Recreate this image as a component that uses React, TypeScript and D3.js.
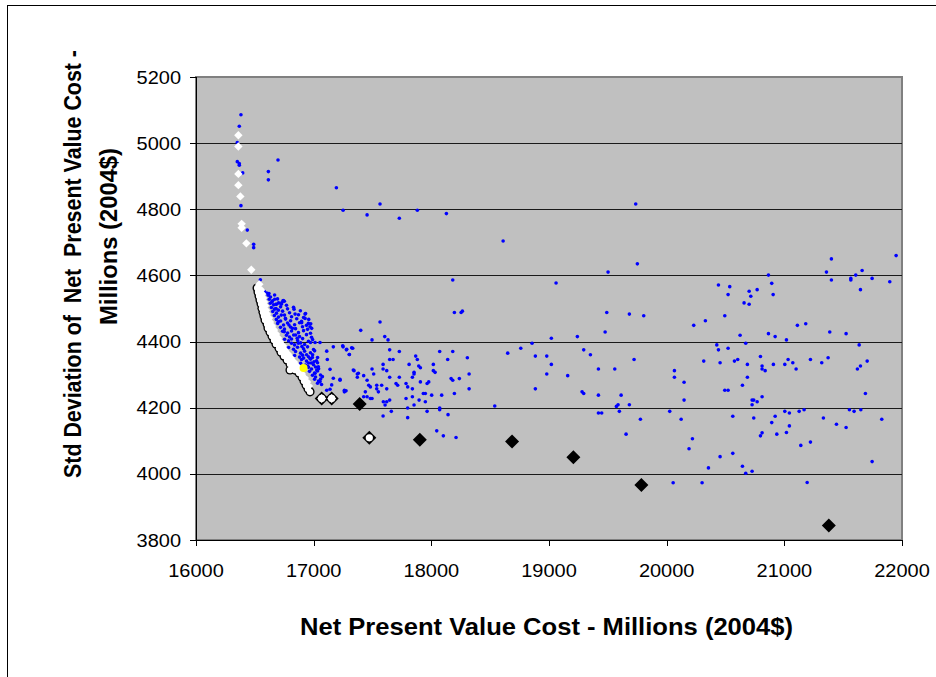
import React from "react";
import * as d3 from "d3";

// Axis ticks
const xTicks = [16000, 17000, 18000, 19000, 20000, 21000, 22000];
const yTicks = [3800, 4000, 4200, 4400, 4600, 4800, 5000, 5200];

// Candidate portfolios: [NPV cost, std deviation]
const candidatesUpper: [number, number][] = [
  [16382, 5086], [16368, 5051], [16351, 5002], [16351, 4944], [16368, 4938], [16368, 4933],
  [16397, 4910], [16697, 4949], [16615, 4914], [16615, 4889], [17193, 4865], [17564, 4816],
  [17250, 4797], [17454, 4783], [16382, 4811], [16436, 4737], [16490, 4694], [16490, 4684],
  [16547, 4587], [16669, 4528], [16740, 4523], [16683, 4513], [16725, 4513],
  [17728, 4773], [17881, 4797], [18128, 4787], [18182, 4586], [18196, 4488], [18253, 4488],
  [18264, 4492], [17564, 4459], [17400, 4434], [17496, 4405], [17604, 4415], [17632, 4405],
  [18539, 4205], [18046, 4130], [18102, 4115], [18210, 4110], [18610, 4704], [19060, 4577],
];

const candidatesMid: [number, number][] = [
  [17250, 4384], [17278, 4375], [17332, 4380], [17303, 4361], [17646, 4375], [17728, 4370],
  [18071, 4370], [18182, 4370], [17867, 4356], [17881, 4346], [17646, 4346], [17675, 4346],
  [18139, 4346], [18306, 4351], [17590, 4331], [17811, 4331], [18017, 4331], [17893, 4326],
  [17907, 4321], [17590, 4317], [17621, 4312], [17343, 4312], [17496, 4317], [17853, 4307],
  [17853, 4302], [18017, 4312], [18032, 4307], [18321, 4302], [17371, 4302], [17371, 4292],
  [17425, 4297], [17510, 4302], [17646, 4292], [17728, 4292], [17839, 4292], [17224, 4283],
  [17454, 4283], [17907, 4278], [17964, 4273], [17978, 4278], [18168, 4288], [18182, 4283],
  [18238, 4288], [17700, 4273], [17714, 4268], [17468, 4268], [17482, 4263], [17536, 4268],
  [17536, 4257], [17578, 4268], [17785, 4273], [17799, 4263], [17621, 4257], [17839, 4257],
  [18321, 4257], [17261, 4253], [17261, 4248], [17439, 4248], [17550, 4248], [17932, 4243],
  [17949, 4243], [18003, 4238], [18088, 4238], [18196, 4243], [17425, 4233], [17454, 4233],
  [17482, 4228], [17496, 4228], [17646, 4223], [17621, 4218], [17592, 4218], [17785, 4228],
  [17839, 4233], [17896, 4223], [17949, 4218], [17607, 4208], [17853, 4208], [17799, 4199],
  [18071, 4199], [18071, 4194], [17964, 4189], [17660, 4189], [18142, 4179], [17590, 4175],
  [17799, 4170],
  [18649, 4365], [18760, 4380], [18856, 4395], [19020, 4410], [18884, 4356], [18981, 4356],
  [19020, 4331], [18981, 4302], [19159, 4297], [18884, 4257],
];

const candidatesRight: [number, number][] = [
  [19737, 4816], [19751, 4635], [19502, 4610], [20440, 4571], [20536, 4566], [20522, 4542],
  [19491, 4488], [19683, 4483], [19805, 4478], [20494, 4478], [20230, 4449], [20329, 4463],
  [19477, 4429], [19241, 4415], [20624, 4419], [19295, 4375], [19352, 4360], [19723, 4346],
  [19420, 4317], [19559, 4317], [19281, 4248], [19295, 4243], [19420, 4238], [19613, 4238],
  [19573, 4204], [19587, 4209], [19683, 4209], [19420, 4184], [19448, 4184], [19598, 4189],
  [19777, 4165], [19655, 4120], [20026, 4189], [20123, 4165], [20066, 4312], [20066, 4292],
  [20148, 4277], [20148, 4223], [20315, 4341], [20426, 4390], [20440, 4375], [20522, 4380],
  [20454, 4336], [20576, 4341], [20604, 4346], [20494, 4253], [20522, 4253], [20562, 4174],
  [20219, 4106], [20190, 4076], [20454, 4052], [20562, 4062], [20355, 4018], [20055, 3973],
  [20301, 3973], [21194, 3974], [20811, 4124], [20797, 4115], [20936, 4120], [21018, 4125],
  [21140, 4086], [21222, 4096], [20644, 4023], [20672, 4002], [20726, 4008],
  [21400, 4650], [21950, 4660], [21358, 4610], [21400, 4586], [21565, 4591], [21565, 4586],
  [21607, 4601], [21661, 4615], [21746, 4591], [21896, 4581], [21647, 4557], [20865, 4601],
  [20893, 4576], [20905, 4542], [20769, 4557], [20701, 4552], [20715, 4537], [20658, 4517],
  [20701, 4513], [21111, 4449], [21182, 4454], [21386, 4429], [21525, 4424], [20865, 4424],
  [20922, 4415], [21018, 4405], [20672, 4395], [21636, 4390], [20797, 4355], [20686, 4331],
  [20811, 4326], [20811, 4317], [20837, 4312], [20907, 4331], [21004, 4331], [21032, 4346],
  [21072, 4336], [21100, 4317], [21222, 4346], [21318, 4336], [21372, 4351], [21621, 4317],
  [21647, 4326], [21704, 4341], [20686, 4292], [20644, 4268], [21689, 4243], [20811, 4233],
  [20726, 4223], [20740, 4223], [20769, 4218], [20726, 4209], [20740, 4169], [20922, 4174],
  [20893, 4155], [21004, 4189], [21043, 4184], [21126, 4189], [21168, 4194], [21332, 4169],
  [21043, 4145], [21443, 4150], [21525, 4140], [21553, 4194], [21593, 4189], [21650, 4194],
  [21828, 4165], [21746, 4037],
];

// Dense group just above the efficient frontier
const candidatesNearFrontier: [number, number][] = [
  [17012, 4397], [17054, 4397], [17111, 4371], [17167, 4384], [17247, 4387], [17281, 4377],
  [17323, 4381], [17303, 4361], [17337, 4314], [17380, 4304], [17116, 4346], [17139, 4316],
  [17167, 4289], [17224, 4286], [17275, 4251], [17153, 4269], [17139, 4256], [17111, 4253],
  [17054, 4279], [17074, 4294], [17026, 4314], [17012, 4304], [17040, 4324], [16989, 4352],
  [16969, 4349], [17003, 4339],
  [16833, 4498], [16842, 4483], [16927, 4483], [16927, 4470], [16955, 4455], [16969, 4445],
  [16983, 4440], [16898, 4457], [16728, 4517], [16742, 4524], [16680, 4513],
  [16580, 4552], [16601, 4547],
  [16614, 4540], [16633, 4535], [16668, 4541],
  [16622, 4528], [16650, 4523], [16693, 4529], [16751, 4522],
  [16631, 4516], [16660, 4511], [16702, 4517], [16769, 4510],
  [16641, 4503], [16668, 4498], [16719, 4505], [16778, 4499], [16829, 4504],
  [16652, 4491], [16684, 4486], [16736, 4492], [16795, 4487], [16887, 4493], [16931, 4485],
  [16666, 4479], [16701, 4474], [16752, 4480], [16812, 4475], [16871, 4481], [16914, 4473],
  [16683, 4467], [16719, 4462], [16761, 4468], [16804, 4463], [16856, 4469], [16897, 4461], [16958, 4467],
  [16694, 4455], [16744, 4450], [16778, 4456], [16838, 4451], [16880, 4457], [16939, 4449], [16975, 4454],
  [16718, 4443], [16752, 4438], [16803, 4444], [16846, 4439], [16905, 4445], [16948, 4437],
  [16736, 4431], [16779, 4426], [16812, 4432], [16871, 4427], [16914, 4433], [16973, 4425],
  [16769, 4419], [16795, 4414], [16847, 4420], [16880, 4415], [16939, 4421], [16982, 4413],
  [16753, 4407], [16787, 4402], [16812, 4408], [16864, 4403], [16906, 4409], [16956, 4401], [16991, 4406],
  [16812, 4395], [16838, 4390], [16889, 4396], [16923, 4391], [16973, 4397],
  [16787, 4382], [16829, 4377], [16863, 4383], [16914, 4378], [16948, 4384], [16999, 4376],
  [16846, 4370], [16889, 4365], [16923, 4371], [16973, 4366], [17008, 4372],
  [16838, 4358], [16880, 4353], [16906, 4359], [16956, 4354], [16991, 4360], [17033, 4352],
  [16897, 4346], [16939, 4341], [16974, 4347], [17024, 4342],
  [16889, 4334], [16931, 4329], [16957, 4335], [16999, 4330], [17033, 4336],
  [16956, 4322], [16982, 4317], [17016, 4323], [17042, 4318],
  [16965, 4310], [17007, 4305], [17033, 4311],
  [16990, 4298], [17016, 4293], [17058, 4299],
  [17008, 4286], [17041, 4281], [17059, 4287],
  [17033, 4274], [17067, 4270],
  [16700, 4495], [16760, 4470], [16820, 4440], [16860, 4410], [16900, 4385], [16940, 4360],
  [16980, 4335], [16725, 4480], [16790, 4450], [16830, 4420], [16870, 4395], [16915, 4350],
  [16950, 4325], [16680, 4500], [16645, 4520], [16700, 4460], [16750, 4430], [16620, 4545],
];

// Efficient frontier, outlined markers
const frontierOutlined: [number, number][] = [
  [16519, 4562], [16527, 4550], [16536, 4538], [16544, 4526], [16553, 4514], [16561, 4501],
  [16570, 4489], [16578, 4477], [16587, 4465], [16604, 4453], [16612, 4441], [16629, 4429],
  [16646, 4417], [16663, 4405], [16680, 4393], [16706, 4380], [16723, 4368], [16748, 4356],
  [16774, 4344], [16799, 4332], [16825, 4323], [16850, 4314], [16876, 4305], [16901, 4293],
  [16918, 4281], [16935, 4269], [16952, 4257], [16969, 4248], [16799, 4314], [16842, 4314],
];

// Efficient frontier, plain white markers
const frontierPlain: [number, number][] = [
  [16360, 5024], [16360, 4990], [16360, 4907], [16360, 4873], [16377, 4839], [16388, 4756],
  [16388, 4744], [16428, 4697], [16470, 4617], [16538, 4573],
  [16553, 4556], [16562, 4544], [16570, 4532], [16578, 4520], [16587, 4508], [16595, 4495],
  [16604, 4483], [16620, 4471], [16629, 4459], [16646, 4447], [16663, 4435], [16680, 4423],
  [16697, 4411], [16714, 4399], [16738, 4387], [16755, 4374], [16782, 4362], [16806, 4350],
  [16832, 4338], [16857, 4326], [16884, 4314], [16901, 4302], [16925, 4290], [16944, 4278],
  [16960, 4266],
];

// Highlighted plan
const selectedPlan: [number, number][] = [[16914, 4320]];

// Reference portfolios (large diamonds)
const referencePlans: [number, number][] = [
  [17068, 4228], [17153, 4228], [17391, 4211], [17473, 4109], [17902, 4103],
  [18686, 4098], [19207, 4050], [19785, 3966], [21378, 3844],
];
// Reference portfolios that also sit on the frontier
const referenceOnFrontier: [number, number][] = [[17068, 4228], [17153, 4228], [17473, 4109]];

const W = 936;
const H = 677;
const plot = { left: 196, right: 902, top: 77, bottom: 540 };

const x = d3.scaleLinear().domain([16000, 22000]).range([plot.left, plot.right]);
const y = d3.scaleLinear().domain([3800, 5200]).range([plot.bottom, plot.top]);

const diamond = (h: number) => `M0,${-h}L${h},0L0,${h}L${-h},0Z`;

const font = "Arial, 'Liberation Sans', Helvetica, sans-serif";

export default function App() {
  const blue = [...candidatesUpper, ...candidatesMid, ...candidatesRight, ...candidatesNearFrontier];
  return (
    <svg
      width={W}
      height={H}
      viewBox={`0 0 ${W} ${H}`}
      style={{ position: "absolute", left: 0, top: 0, background: "#fff" }}
      fontFamily={font}
    >
      {/* chart frame */}
      <rect x={7.5} y={5.5} width={W + 20} height={H + 20} fill="#fff" stroke="#000" strokeWidth={1} />

      {/* plot area */}
      <rect
        x={plot.left}
        y={plot.top}
        width={plot.right - plot.left}
        height={plot.bottom - plot.top}
        fill="#C0C0C0"
        stroke="#808080"
        strokeWidth={2}
      />

      {/* gridlines */}
      {yTicks.slice(1, -1).map((t) => (
        <line
          key={`g${t}`}
          x1={plot.left}
          x2={plot.right}
          y1={Math.round(y(t)) + 0.5}
          y2={Math.round(y(t)) + 0.5}
          stroke="#1a1a1a"
          strokeWidth={1}
        />
      ))}

      {/* candidate portfolios */}
      {blue.map(([a, b], i) => (
        <circle key={`b${i}`} cx={x(a)} cy={y(b)} r={1.8} fill="#0000FF" />
      ))}

      {/* frontier outlined markers */}
      {frontierOutlined.map(([a, b], i) => (
        <circle key={`fo${i}`} cx={x(a)} cy={y(b)} r={4.6} fill="#000" />
      ))}
      {frontierOutlined.map(([a, b], i) => (
        <circle key={`fw${i}`} cx={x(a)} cy={y(b)} r={3.2} fill="#fff" />
      ))}

      {/* frontier plain markers */}
      {frontierPlain.map(([a, b], i) => (
        <path key={`fp${i}`} d={diamond(4.2)} transform={`translate(${x(a)},${y(b)})`} fill="#fff" />
      ))}

      {/* selected plan */}
      {selectedPlan.map(([a, b], i) => (
        <circle key={`s${i}`} cx={x(a)} cy={y(b)} r={4} fill="#FFFF00" />
      ))}

      {/* reference portfolios */}
      {referencePlans.map(([a, b], i) => (
        <path key={`r${i}`} d={diamond(7)} transform={`translate(${x(a)},${y(b)})`} fill="#000" />
      ))}
      {referenceOnFrontier.map(([a, b], i) => (
        <g key={`rf${i}`} transform={`translate(${x(a)},${y(b)})`}>
          {i < 2 && <path d={diamond(4.5)} fill="#fff" />}
          <circle r={3.6} fill="#fff" />
        </g>
      ))}

      {/* y axis */}
      <line x1={plot.left + 0.5} x2={plot.left + 0.5} y1={plot.top} y2={plot.bottom} stroke="#000" />
      {yTicks.map((t) => (
        <g key={`yt${t}`}>
          <line
            x1={plot.left - 6}
            x2={plot.left}
            y1={Math.round(y(t)) + 0.5}
            y2={Math.round(y(t)) + 0.5}
            stroke="#000"
          />
          <text
            transform={`translate(181,${y(t) + 6.5}) scale(1.08,1)`}
            textAnchor="end"
            fontSize={18.5}
            fill="#000"
          >
            {t}
          </text>
        </g>
      ))}

      {/* x axis */}
      <line x1={plot.left} x2={plot.right} y1={plot.bottom + 0.5} y2={plot.bottom + 0.5} stroke="#000" />
      {xTicks.map((t) => (
        <g key={`xt${t}`}>
          <line
            x1={Math.round(x(t)) + 0.5}
            x2={Math.round(x(t)) + 0.5}
            y1={plot.bottom}
            y2={plot.bottom + 6}
            stroke="#000"
          />
          <text
            transform={`translate(${x(t)},577) scale(1.08,1)`}
            textAnchor="middle"
            fontSize={18.5}
            fill="#000"
          >
            {t}
          </text>
        </g>
      ))}

      {/* axis titles */}
      <text
        x={300}
        y={635}
        fontSize={23.5}
        fontWeight="bold"
        textLength={493}
        lengthAdjust="spacingAndGlyphs"
        fill="#000"
      >
        Net Present Value Cost - Millions (2004$)
      </text>
      <text
        transform="translate(81,478) rotate(-90)"
        fontSize={23}
        fontWeight="bold"
        textLength={428}
        lengthAdjust="spacingAndGlyphs"
        style={{ whiteSpace: "pre" }}
        fill="#000"
      >
        {"Std Deviation of  Net  Present Value Cost -"}
      </text>
      <text
        transform="translate(117,325) rotate(-90)"
        fontSize={23}
        fontWeight="bold"
        textLength={177}
        lengthAdjust="spacingAndGlyphs"
        fill="#000"
      >
        Millions (2004$)
      </text>
    </svg>
  );
}
